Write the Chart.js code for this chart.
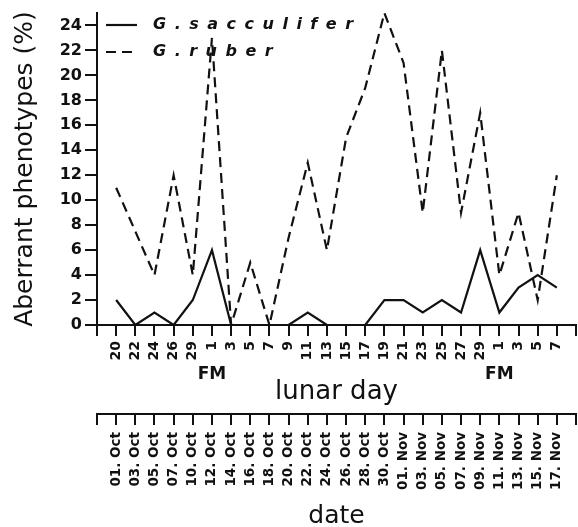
<!DOCTYPE html>
<html>
<head>
<meta charset="utf-8">
<script src="https://cdn.jsdelivr.net/npm/chart.js@4.4.1/dist/chart.umd.min.js"></script>
<style>
  html, body { margin: 0; padding: 0; background: #fff; }
  #wrap { width: 578px; height: 527px; }
</style>
</head>
<body>
<div id="wrap"><canvas id="c"></canvas></div>
<script>
'use strict';
// Aberrant phenotypes (%) de G. sacculifer / G. ruber selon le jour lunaire.

const LUNAR = ['20', '22', '24', '26', '29', '1', '3', '5', '7', '9', '11', '13', '15', '17', '19', '21', '23', '25', '27', '29', '1', '3', '5', '7'];
const DATES = ['01. Oct', '03. Oct', '05. Oct', '07. Oct', '10. Oct', '12. Oct', '14. Oct', '16. Oct', '18. Oct', '20. Oct', '22. Oct', '24. Oct',
  '26. Oct', '28. Oct', '30. Oct', '01. Nov', '03. Nov', '05. Nov', '07. Nov', '09. Nov', '11. Nov', '13. Nov', '15. Nov', '17. Nov'];
const FM_INDEX = [5, 20];   // pleine lune
const SACCULIFER = [2, 0, 1, 0, 2, 6, 0, 0, 0, 0, 1, 0, 0, 0, 2, 2, 1, 2, 1, 6, 1, 3, 4, 3];
const RUBER = [11, 7.5, 4, 12, 4, 23, 0, 5, 0, 7, 13, 6, 15, 19, 25, 21, 9, 22, 9, 17, 4, 9, 2, 12];
const Y_TICKS = [0, 2, 4, 6, 8, 10, 12, 14, 16, 18, 20, 22, 24];

const INK = '#111';
const FONT = '"DejaVu Sans", sans-serif';
const pts = arr => arr.map((v, i) => ({ x: i, y: v }));
// hauteur figée + pas de marge latérale pour les libellés tournés
const fixH = h => s => { s.height = h; s.paddingLeft = 0; s.paddingRight = 0; };

const decor = {
  id: 'decor',
  afterDraw(chart) {
    const { ctx, chartArea: ca, scales } = chart;
    ctx.save();
    // légende dans la zone du graphe
    ctx.fillStyle = INK; ctx.strokeStyle = INK; ctx.lineWidth = 2.2;
    ctx.font = 'italic bold 16px ' + FONT;
    ctx.textBaseline = 'middle';
    try { ctx.letterSpacing = '8.5px'; } catch (e) {}
    chart.data.datasets.forEach((ds, i) => {
      const y = ca.top + 12 + i * 27;
      ctx.setLineDash(ds.borderDash || []);
      ctx.beginPath(); ctx.moveTo(ca.left + 9, y); ctx.lineTo(ca.left + 40, y); ctx.stroke();
      ctx.setLineDash([]);
      ctx.fillText(ds.label, ca.left + 56, y);
    });
    try { ctx.letterSpacing = '0px'; } catch (e) {}
    // FM sous les jours lunaires
    const xs = scales.x;
    ctx.font = 'bold 17px ' + FONT;
    ctx.textAlign = 'center';
    FM_INDEX.forEach(i => ctx.fillText('FM', xs.getPixelForValue(i), xs.top + 50));
    ctx.restore();
  }
};

new Chart(document.getElementById('c'), {
  type: 'line',
  data: {
    datasets: [
      { label: 'G.sacculifer', data: pts(SACCULIFER), borderColor: INK, borderWidth: 2.2, pointRadius: 0, tension: 0 },
      { label: 'G.ruber', data: pts(RUBER), borderColor: INK, borderWidth: 2.2, borderDash: [10, 6], pointRadius: 0, tension: 0 },
    ],
  },
  options: {
    responsive: true, maintainAspectRatio: false, animation: false,
    layout: { padding: { top: 13, right: 2, left: 0, bottom: 0 } },
    plugins: { legend: { display: false }, tooltip: { enabled: false } },
    scales: {
      x: {
        type: 'linear', position: 'bottom', weight: 0, min: -1, max: 24,
        afterFit: fixH(89),
        border: { color: INK, width: 2 },
        grid: { drawOnChartArea: false, color: INK, lineWidth: 2, tickLength: 11 },
        ticks: { stepSize: 1, autoSkip: false, maxRotation: 90, minRotation: 90, padding: 5, color: INK,
          font: { family: FONT, size: 14, weight: 'bold' }, callback: v => LUNAR[v] !== undefined ? LUNAR[v] : '' },
        title: { display: true, text: 'lunar day', color: INK, font: { family: FONT, size: 26 }, padding: { top: 0, bottom: 6 } },
      },
      x2: {
        type: 'linear', position: 'bottom', weight: 1, min: -1, max: 24,
        afterFit: fixH(113),
        border: { color: INK, width: 2 },
        grid: { drawOnChartArea: false, color: INK, lineWidth: 2, tickLength: 11 },
        ticks: { stepSize: 1, autoSkip: false, maxRotation: 90, minRotation: 90, padding: 7, color: INK,
          font: { family: FONT, size: 13.5, weight: 'bold' }, callback: v => DATES[v] !== undefined ? DATES[v] : '' },
        title: { display: true, text: 'date', color: INK, font: { family: FONT, size: 25, lineHeight: 1 }, padding: { top: 0, bottom: -2 } },
      },
      y: {
        min: 0, max: 25,
        afterFit: s => { s.width = 97; },
        afterBuildTicks: s => { s.ticks = Y_TICKS.map(v => ({ value: v })); },
        border: { color: INK, width: 2 },
        grid: { drawOnChartArea: false, color: INK, lineWidth: 2, tickLength: 12 },
        ticks: { color: INK, padding: 3, font: { family: FONT, size: 16, weight: 'bold' } },
        title: { display: true, text: 'Aberrant phenotypes (%)', color: INK, font: { family: FONT, size: 25 }, padding: { top: 10, bottom: 0 } },
      },
    },
  },
  plugins: [decor],
});
</script>
</body>
</html>
